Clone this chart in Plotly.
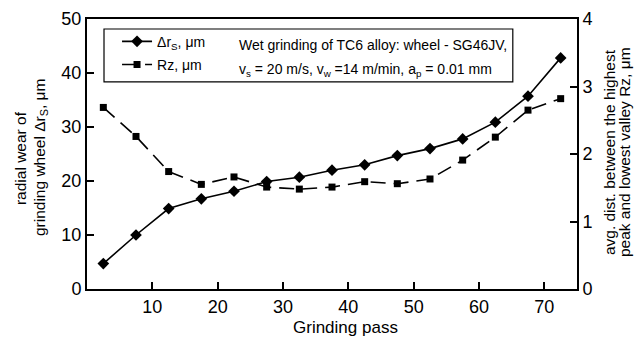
import plotly.graph_objects as go

passes = [2.5, 7.5, 12.5, 17.5, 22.5, 27.5, 32.5, 37.5, 42.5, 47.5, 52.5, 57.5, 62.5, 67.5, 72.5]
wear_dr = [4.7, 10.0, 14.9, 16.7, 18.1, 19.9, 20.7, 22.0, 23.0, 24.7, 26.0, 27.8, 30.9, 35.7, 42.8]
rz = [2.69, 2.26, 1.74, 1.55, 1.66, 1.51, 1.48, 1.51, 1.59, 1.56, 1.63, 1.91, 2.25, 2.65, 2.82]
x_ticks = [10, 20, 30, 40, 50, 60, 70]

FONT = "Liberation Sans, Arial, sans-serif"

fig = go.Figure()
fig.add_trace(go.Scatter(
    x=passes, y=wear_dr, name="Δr<sub>S</sub>, μm", mode="lines+markers",
    line=dict(color="black", width=1.6),
    marker=dict(symbol="diamond", size=9, color="black"),
    legendgroup="a",
))
fig.add_trace(go.Scatter(
    x=passes, y=rz, name="Rz, μm", mode="lines+markers", yaxis="y2",
    line=dict(color="black", width=1.6, dash="15px,8px"),
    marker=dict(symbol="square", size=7, color="black"),
    legendgroup="b",
))

axis_common = dict(
    showline=True, linecolor="black", linewidth=2, ticks="inside",
    ticklen=7, tickwidth=1.5, tickcolor="black", showgrid=False, zeroline=False,
    automargin=False,
    tickfont=dict(family=FONT, size=18, color="black"),
)

def txt(text, x, y, size, angle=0, xanchor="center"):
    return dict(xref="paper", yref="paper", x=x, y=y, xanchor=xanchor, yanchor="middle",
                text=text, showarrow=False, textangle=angle,
                font=dict(family=FONT, size=size, color="black"))

fig.update_layout(
    width=641, height=338,
    margin=dict(l=87, r=64, t=19, b=49, autoexpand=False),
    paper_bgcolor="white", plot_bgcolor="white",
    font=dict(family=FONT, color="black"),
    xaxis=dict(range=[0, 75], tickvals=x_ticks, mirror=True, **axis_common),
    yaxis=dict(range=[0, 50], dtick=10, **axis_common),
    yaxis2=dict(range=[0, 4], dtick=1, overlaying="y", side="right", **axis_common),
    legend=dict(x=0.0613, y=0.975, xanchor="left", yanchor="top",
                bgcolor="rgba(0,0,0,0)", borderwidth=0,
                font=dict(family=FONT, size=14, color="black"),
                tracegroupgap=2),
    showlegend=True,
    shapes=[dict(type="rect", xref="paper", yref="paper",
                 x0=0.0347, x1=0.869, y0=0.767, y1=0.963,
                 line=dict(color="black", width=1.2))],
    annotations=[
        txt("Wet grinding of TC6 alloy: wheel - SG46JV,", 0.306, 0.904, 14, xanchor="left"),
        txt("v<sub>s</sub> = 20 m/s, v<sub>w</sub> =14 m/min, a<sub>p</sub> = 0.01 mm",
            0.306, 0.811, 14, xanchor="left"),
        txt("Grinding pass", 0.527, -0.141, 17),
        txt("radial wear of", -0.1367, 0.485, 15.5, angle=-90),
        txt("grinding wheel Δr<sub>S</sub>, μm", -0.0959, 0.485, 15.5, angle=-90),
        txt("avg. dist. between the highest", 1.0653, 0.507, 15.5, angle=-90),
        txt("peak and lowest valley Rz, μm", 1.0959, 0.507, 15.5, angle=-90),
    ],
)

fig.write_html("out.html", config={"displayModeBar": False},
               post_script="document.body.style.margin='0px';document.body.style.overflow='hidden';")
